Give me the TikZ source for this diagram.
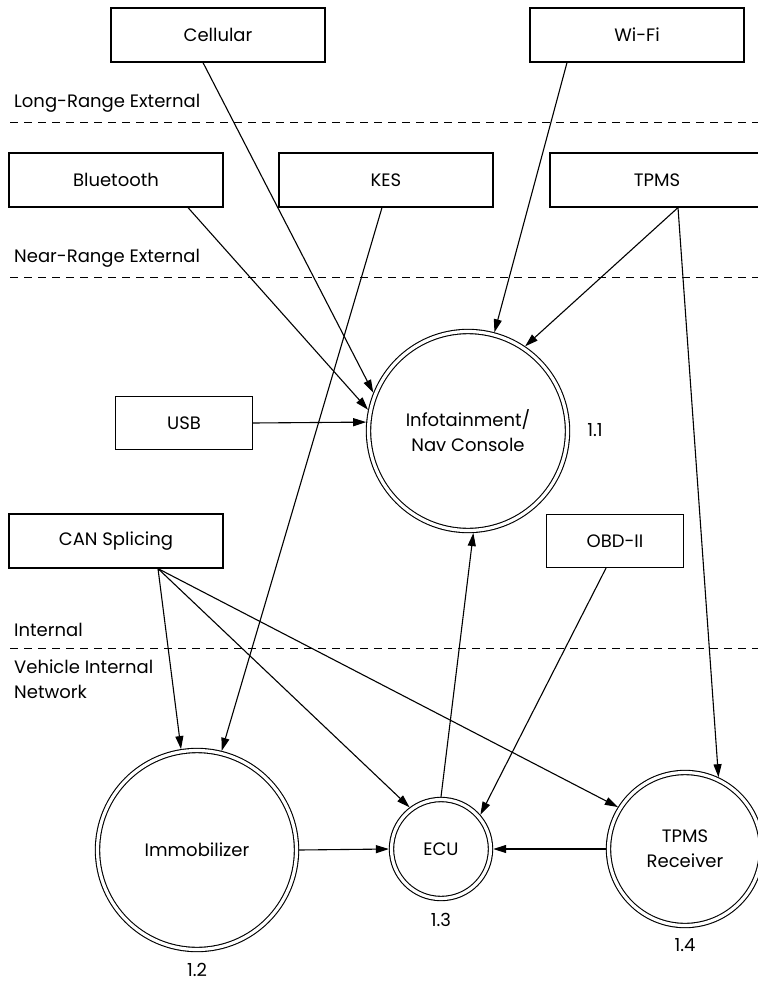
\documentclass[tikz,border=0pt]{standalone}
\usepackage{fontspec}
\setmainfont{Poppins}
\usetikzlibrary{arrows.meta}
\begin{document}
\begin{tikzpicture}[x=1pt,y=-1pt,
  every node/.style={font=\fontsize{18}{25}\selectfont},
  box/.style={draw, line width=1.2pt, minimum width=214pt, minimum height=54pt, inner sep=0pt},
  sbox/.style={box, minimum width=137pt, minimum height=53pt},
  dcirc/.style={circle, draw, line width=1.1pt, double, double distance=3.2pt, inner sep=0pt, outer sep=2.7pt, align=center},
  lbl/.style={inner sep=0pt, anchor=west, align=left},
  sep/.style={dashed, dash pattern=on 8pt off 6pt, line width=1pt},
  arr/.style={-{Triangle[length=13pt,width=8pt]}, line width=1.1pt}]
\useasboundingbox (0,0) rectangle (757,984);
% separators
\coordinate (d1a) at (10,123); \coordinate (d1b) at (760,123);
\coordinate (d2a) at (10,277); \coordinate (d2b) at (760,277);
\coordinate (d3a) at (10,648); \coordinate (d3b) at (760,648);
\draw[sep] (d1a) -- (d1b);
\draw[sep] (d2a) -- (d2b);
\draw[sep] (d3a) -- (d3b);
\node[lbl] (lr) at (14,103) {Long-Range External};
\node[lbl] (nr) at (14,258) {Near-Range External};
\node[lbl] (in) at (14,630) {Internal};
\node[lbl] (vin) at (14,679) {Vehicle Internal\\Network};
% boxes
\node[box] (cell) at (218,35) {Cellular};
\node[box] (wifi) at (637,35) {Wi-Fi};
\node[box] (bt) at (116,180) {Bluetooth};
\node[box] (kes) at (386,180) {KES};
\node[box] (tpms) at (657,180) {TPMS};
\node[sbox] (usb) at (184,423) {USB};
\node[box] (can) at (116,541) {CAN Splicing};
\node[sbox] (obd) at (615,541) {OBD-II};
% circles
\node[dcirc, minimum size=199pt] (info) at (468,431) {Infotainment/\\Nav Console};
\node[dcirc, minimum size=199pt] (imm) at (197,850) {Immobilizer};
\node[dcirc, minimum size=99pt] (ecu) at (441,849) {ECU};
\node[dcirc, minimum size=153pt] (rcv) at (685,849) {TPMS\\Receiver};
\node (n11) at (595,430) {1.1};
\node (n12) at (197,970) {1.2};
\node (n13) at (441,920) {1.3};
\node (n14) at (685,945) {1.4};
% connectors
\draw[arr] ([xshift=-15pt]cell.south) -- (info.158);
\draw[arr] ([xshift=72pt]bt.south) -- (info.168);
\draw[arr] ([xshift=-70pt]wifi.south) -- (info.75.5);
\draw[arr] ([xshift=21pt]tpms.south) -- (info.56);
\draw[arr] ([xshift=21pt]tpms.south) -- (rcv.65.7);
\draw[arr] ([xshift=-4pt]kes.south) -- (imm.76);
\draw[arr] (usb.east) -- (info.175.5);
\draw[arr] ([xshift=42pt]can.south) -- (imm.99.8);
\draw[arr] ([xshift=42pt]can.south) -- (ecu.127);
\draw[arr] ([xshift=42pt]can.south) -- (rcv.148);
\draw[arr] (ecu.north) -- (info.273);
\draw[arr] ([xshift=-9pt]obd.south) -- (ecu.41);
\draw[arr] (imm.east) -- (ecu.west);
\draw[arr] (rcv.west) -- (ecu.east);
\end{tikzpicture}
\end{document}
